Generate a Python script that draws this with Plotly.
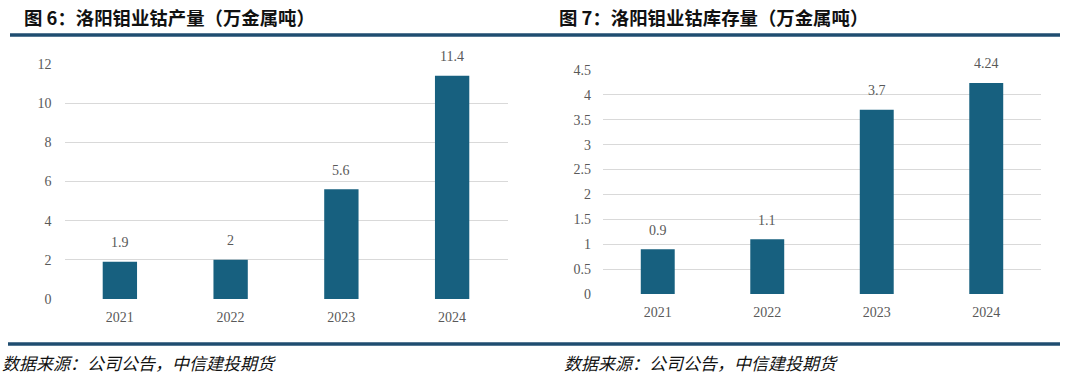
import plotly.graph_objects as go

years = ["2021", "2022", "2023", "2024"]
production = [1.9, 2, 5.6, 11.4]
inventory = [0.9, 1.1, 3.7, 4.24]
prod_labels = ["1.9", "2", "5.6", "11.4"]
inv_labels = ["0.9", "1.1", "3.7", "4.24"]
left_title = "图 6：洛阳钼业钴产量（万金属吨）"
right_title = "图 7：洛阳钼业钴库存量（万金属吨）"
source_text = "数据来源：公司公告，中信建投期货"

W, H = 1080, 376
BAR = "#17607f"
RULE = "#1f4d70"
GRID = "#d9d9d9"
TICK = "#595959"
SERIF = "Liberation Serif, Times New Roman, serif"
CJK = "Noto Sans CJK SC, sans-serif"

def px(x):
    return x / W

def py(y):
    return 1 - y / H

fig = go.Figure()
fig.add_trace(go.Bar(x=years, y=production, marker_color=BAR, xaxis="x", yaxis="y",
                     showlegend=False, hoverinfo="x+y"))
fig.add_trace(go.Bar(x=years, y=inventory, marker_color=BAR, xaxis="x2", yaxis="y2",
                     showlegend=False, hoverinfo="x+y"))

axis_common = dict(showline=False, zeroline=False, ticks="", automargin=False,
                   tickfont=dict(family=SERIF, size=14, color=TICK), fixedrange=True)

fig.update_layout(
    template="none",
    width=W, height=H,
    margin=dict(l=0, r=0, t=0, b=0, pad=0),
    paper_bgcolor="white", plot_bgcolor="white",
    bargap=0.69,
    showlegend=False,
    xaxis=dict(domain=[px(64.5), px(507.5)], anchor="y", type="category",
               range=[-0.5, len(years) - 0.5], showgrid=False,
               ticklabelstandoff=8, **axis_common),
    yaxis=dict(domain=[py(299), py(64)], anchor="x", range=[0, 12], dtick=2,
               showgrid=True, gridcolor=GRID, gridwidth=1, ticklabelstandoff=12,
               **axis_common),
    xaxis2=dict(domain=[px(603), px(1041)], anchor="y2", type="category",
                range=[-0.5, len(years) - 0.5], showgrid=False,
                ticklabelstandoff=8, **axis_common),
    yaxis2=dict(domain=[py(294), py(70)], anchor="x2", range=[0, 4.5], dtick=0.5,
                showgrid=True, gridcolor=GRID, gridwidth=1, ticklabelstandoff=11,
                **axis_common),
)

annotations = []
for i, (v, t) in enumerate(zip(production, prod_labels)):
    annotations.append(dict(x=i, y=v, xref="x", yref="y", text=t, showarrow=False,
                            yanchor="middle", yshift=19,
                            font=dict(family=SERIF, size=14, color=TICK)))
for i, (v, t) in enumerate(zip(inventory, inv_labels)):
    annotations.append(dict(x=i, y=v, xref="x2", yref="y2", text=t, showarrow=False,
                            yanchor="middle", yshift=19,
                            font=dict(family=SERIF, size=14, color=TICK)))

annotations.append(dict(x=px(22), y=py(17), xref="paper", yref="paper", text="<b>" + left_title + "</b>",
                        showarrow=False, xanchor="left", yanchor="middle",
                        font=dict(family=CJK, size=18.4, color="#111111")))
annotations.append(dict(x=px(557), y=py(17), xref="paper", yref="paper", text="<b>" + right_title + "</b>",
                        showarrow=False, xanchor="left", yanchor="middle",
                        font=dict(family=CJK, size=18.4, color="#111111")))
annotations.append(dict(x=px(0), y=py(362), xref="paper", yref="paper", text="<i>" + source_text + "</i>",
                        showarrow=False, xanchor="left", yanchor="middle",
                        font=dict(family=CJK, size=17, color="#111111")))
annotations.append(dict(x=px(562), y=py(362), xref="paper", yref="paper", text="<i>" + source_text + "</i>",
                        showarrow=False, xanchor="left", yanchor="middle",
                        font=dict(family=CJK, size=17, color="#111111")))
fig.update_layout(annotations=annotations)

shapes = [
    dict(type="line", xref="paper", yref="paper", x0=px(10), x1=px(1060), y0=py(35), y1=py(35),
         line=dict(color=RULE, width=3.5)),
    dict(type="line", xref="paper", yref="paper", x0=px(8), x1=px(1060), y0=py(344), y1=py(344),
         line=dict(color=RULE, width=3.5)),
]
fig.update_layout(shapes=shapes)

fig.write_html("out.html", config={"displayModeBar": False},
               post_script="document.body.style.margin='0';document.body.style.overflow='hidden';")
